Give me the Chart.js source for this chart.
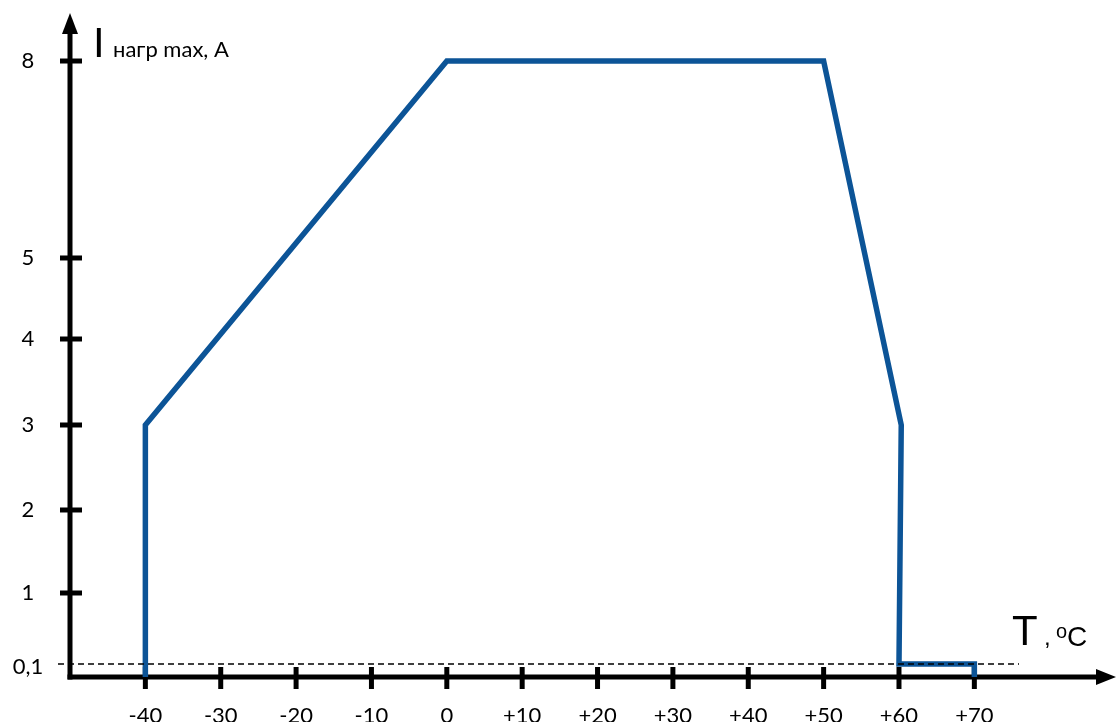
<!DOCTYPE html>
<html lang="ru">
<head>
    <meta charset="UTF-8">
    <title>Iнагр max vs T</title>
    <script src="https://cdn.jsdelivr.net/npm/chart.js"></script>
    <style>
        html, body { margin: 0; padding: 0; background: #fff; }
        #loadChart { display: block; }
    </style>
</head>
<body>
    <canvas id="loadChart" width="1116" height="722"></canvas>

    <script>
        // данные кривой: температура (°C) и максимальный ток нагрузки (A)
        const tempC = [-40, -40, 0, 50, 60.3, 60, 70, 70];
        const loadA = [0, 3, 8, 8, 3, 0.1, 0.1, 0];

        // подписи осей
        const xTicks = [-40, -30, -20, -10, 0, 10, 20, 30, 40, 50, 60, 70];
        const xTickLabels = ['-40', '-30', '-20', '-10', '0', '+10', '+20', '+30', '+40', '+50', '+60', '+70'];
        const yTicks = [0.1, 1, 2, 3, 4, 5, 8];
        const yTickLabels = ['0,1', '1', '2', '3', '4', '5', '8'];
        const dashedLevel = 0.1;

        // ось Y на рисунке не линейная (разрыв между 5 и 8) -> кусочно-линейная шкала
        const yBreakValues = [0, 0.1, 1, 2, 3, 4, 5, 8, 8.72];
        const yBreakFractions = [0, 0.0196, 0.1267, 0.2519, 0.3801, 0.5098, 0.632, 0.9291, 1];

        function interp(v, from, to) {
            if (v <= from[0]) return to[0];
            for (let i = 1; i < from.length; i++) {
                if (v <= from[i]) {
                    const t = (v - from[i - 1]) / (from[i] - from[i - 1]);
                    return to[i - 1] + t * (to[i] - to[i - 1]);
                }
            }
            return to[to.length - 1];
        }

        class BrokenLinearScale extends Chart.LinearScale {
            getPixelForValue(value) {
                const f = interp(value, yBreakValues, yBreakFractions);
                return this.bottom - f * (this.bottom - this.top);
            }
            getValueForPixel(pixel) {
                const f = (this.bottom - pixel) / (this.bottom - this.top);
                return interp(f, yBreakFractions, yBreakValues);
            }
        }
        BrokenLinearScale.id = 'brokenLinear';
        BrokenLinearScale.defaults = Chart.LinearScale.defaults;
        Chart.register(BrokenLinearScale);

        const LABEL_FONT = '22px Lato, "Open Sans", sans-serif';
        const SANS = '"Liberation Sans", Arial, sans-serif';

        // оси со стрелками, засечки и подписи
        const axesPlugin = {
            id: 'axesPlugin',
            beforeDatasetsDraw(chart) {
                const { ctx, chartArea, scales: { x, y } } = chart;
                const x0 = chartArea.left;
                const y0 = chartArea.bottom;
                ctx.save();
                ctx.strokeStyle = '#000';
                ctx.fillStyle = '#000';
                ctx.lineWidth = 5;
                ctx.lineCap = 'butt';

                // ось Y
                ctx.beginPath();
                ctx.moveTo(x0, y0 + 2.5);
                ctx.lineTo(x0, chartArea.top + 16);
                ctx.stroke();
                ctx.beginPath();
                ctx.moveTo(x0, chartArea.top - 1);
                ctx.lineTo(x0 - 8, chartArea.top + 20);
                ctx.lineTo(x0 + 8, chartArea.top + 20);
                ctx.closePath();
                ctx.fill();

                // ось X
                ctx.beginPath();
                ctx.moveTo(x0 - 2.5, y0);
                ctx.lineTo(chart.width - 16, y0);
                ctx.stroke();
                ctx.beginPath();
                ctx.moveTo(chart.width, y0);
                ctx.lineTo(chart.width - 20, y0 - 8);
                ctx.lineTo(chart.width - 20, y0 + 8);
                ctx.closePath();
                ctx.fill();

                // засечки
                xTicks.forEach(v => {
                    const px = x.getPixelForValue(v);
                    ctx.beginPath();
                    ctx.moveTo(px, y0 - 10);
                    ctx.lineTo(px, y0 + 12);
                    ctx.stroke();
                });
                yTicks.forEach(v => {
                    if (v === dashedLevel) return;
                    const py = y.getPixelForValue(v);
                    ctx.beginPath();
                    ctx.moveTo(x0 - 10, py);
                    ctx.lineTo(x0 + 12, py);
                    ctx.stroke();
                });

                // подписи засечек
                ctx.font = LABEL_FONT;
                ctx.textAlign = 'center';
                ctx.textBaseline = 'middle';
                xTicks.forEach((v, i) => {
                    ctx.fillText(xTickLabels[i], x.getPixelForValue(v), 716);
                });
                yTicks.forEach((v, i) => {
                    ctx.fillText(yTickLabels[i], 28, y.getPixelForValue(v) + (v === dashedLevel ? 3 : 0));
                });

                // названия осей
                ctx.textAlign = 'left';
                ctx.textBaseline = 'alphabetic';
                ctx.font = '42px ' + SANS;
                ctx.fillText('I', 93, 57);
                ctx.font = '22px Lato, "Open Sans", sans-serif';
                ctx.fillText('нагр max, A', 113, 57);

                ctx.font = '42px ' + SANS;
                ctx.fillText('T', 1012, 645);
                ctx.font = '24px ' + SANS;
                ctx.fillText(',', 1044, 645);
                ctx.font = '20px ' + SANS;
                ctx.fillText('o', 1056, 638);
                ctx.font = '28px ' + SANS;
                ctx.fillText('C', 1067, 646);
                ctx.restore();
            },
            afterDatasetsDraw(chart) {
                const { ctx, scales: { y } } = chart;
                const py = y.getPixelForValue(dashedLevel);
                ctx.save();
                ctx.strokeStyle = '#000';
                ctx.lineWidth = 1.3;
                ctx.setLineDash([6, 4]);
                ctx.beginPath();
                ctx.moveTo(58, py);
                ctx.lineTo(1019, py);
                ctx.stroke();
                ctx.restore();
            }
        };

        const ctx = document.getElementById('loadChart').getContext('2d');

        const chart = new Chart(ctx, {
            type: 'scatter',
            data: {
                datasets: [{
                    data: tempC.map((t, i) => ({ x: t, y: loadA[i] })),
                    showLine: true,
                    borderColor: '#0c5497',
                    borderWidth: 5.5,
                    borderJoinStyle: 'miter',
                    pointRadius: 0,
                    clip: false,
                }],
            },
            options: {
                responsive: false,
                animation: false,
                layout: { padding: { left: 70, right: 6, top: 14, bottom: 45 } },
                plugins: {
                    legend: { display: false },
                    tooltip: { enabled: false },
                },
                scales: {
                    x: { type: 'linear', min: -50, max: 88, display: false },
                    y: { type: 'brokenLinear', min: 0, max: 8.72, display: false },
                },
            },
            plugins: [axesPlugin],
        });
    </script>
</body>
</html>
